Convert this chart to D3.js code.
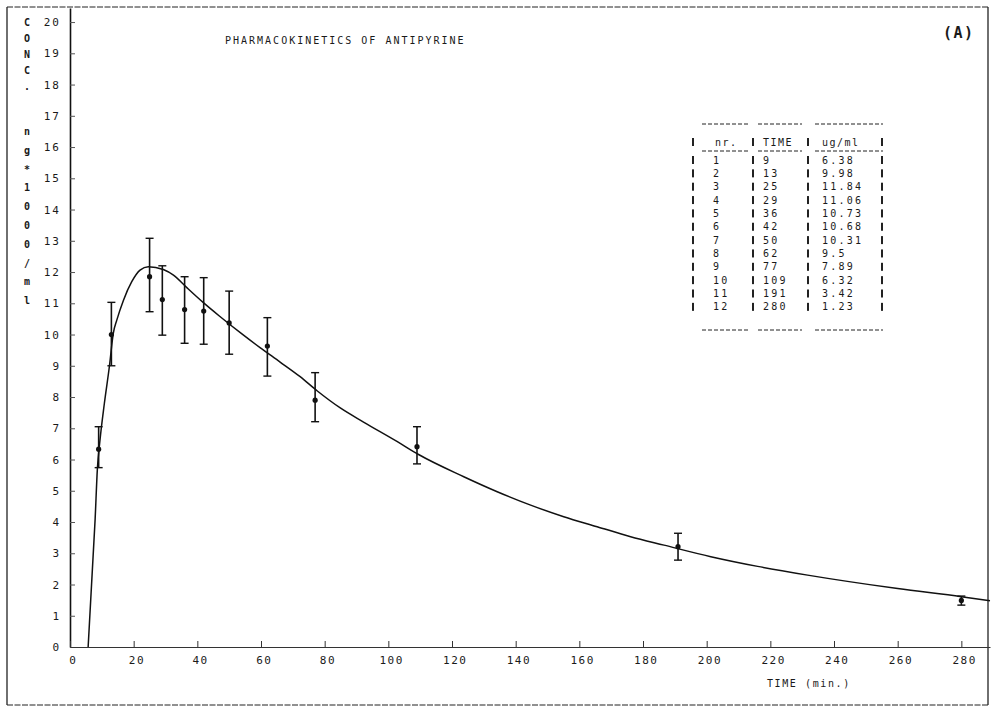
<!DOCTYPE html>
<html>
<head>
<meta charset="utf-8">
<script src="https://cdn.jsdelivr.net/npm/d3@7"></script>
<style>
  body { margin: 0; background: #fff; }
  svg { display: block; }
  .mono { font-family: "DejaVu Sans Mono", monospace; fill: #1a1a1a; }
</style>
</head>
<body>
<svg class="chart"></svg>
<script>
/*Measured points: time in minutes, plotted mean and the ends of the error bars*/
const times = [9, 13, 25, 29, 36, 42, 50, 62, 77, 109, 191, 280]
const means = [6.33, 10.0, 11.85, 11.12, 10.8, 10.75, 10.37, 9.63, 7.9, 6.41, 3.21, 1.49]
const lows  = [5.74, 9.0, 10.73, 9.98, 9.72, 9.69, 9.37, 8.67, 7.21, 5.86, 2.78, 1.34]
const highs = [7.05, 11.03, 13.08, 12.2, 11.85, 11.82, 11.39, 10.54, 8.78, 7.05, 3.64, 1.63]

/*Fitted curve*/
const curveT = [5.7, 7.9, 8.6, 9.4, 10.8, 12.4, 13.6, 14.7, 16.8, 19.4, 22, 24.6, 29.3, 32.5, 36.7, 41.9, 47.2, 54, 59.7, 66, 72.3, 77.6, 84.9, 92.2, 102.7, 109.5, 123.7, 134.2, 144.7, 155.1, 165.6, 176.1, 186.6, 201.3, 216, 231.7, 260, 280, 289]
const curveC = [0, 4.1, 5.7, 6.6, 7.8, 9.0, 10.04, 10.46, 11.1, 11.69, 12.06, 12.17, 12.08, 11.9, 11.5, 11.02, 10.57, 10.02, 9.58, 9.12, 8.65, 8.2, 7.65, 7.2, 6.58, 6.16, 5.45, 4.97, 4.54, 4.17, 3.85, 3.53, 3.26, 2.89, 2.58, 2.3, 1.87, 1.61, 1.48]

/*Table in the upper right*/
const tableHead = ["nr.", "TIME", "ug/ml"]
const tableNr = ["1", "2", "3", "4", "5", "6", "7", "8", "9", "10", "11", "12"]
const tableTime = ["9", "13", "25", "29", "36", "42", "50", "62", "77", "109", "191", "280"]
const tableConc = ["6.38", "9.98", "11.84", "11.06", "10.73", "10.68", "10.31", "9.5", "7.89", "6.32", "3.42", "1.23"]

/*Axis ticks*/
const xTicks = d3.range(0, 281, 20)
const yTicks = d3.range(0, 21, 1)
const yLabel = "CONC.  ng*1000/ml"

const width = 993,
      height = 710

var chart = d3.select(".chart")
    .attr("width", width)
    .attr("height", height)

var x = d3.scaleLinear().domain([0, 289]).range([70, 990])
var y = d3.scaleLinear().domain([0, 20.45]).range([647, 8])

/*Outer frame*/
var frame = chart.append("g").attr("stroke", "#222").attr("fill", "none")
frame.append("line").attr("x1", 7).attr("x2", 988).attr("y1", 7).attr("y2", 7)
    .attr("stroke-dasharray", "6,1.5")
frame.append("line").attr("x1", 7).attr("x2", 988).attr("y1", 705).attr("y2", 705)
    .attr("stroke-dasharray", "6,1.5")
frame.append("line").attr("x1", 7).attr("x2", 7).attr("y1", 7).attr("y2", 705)
    .attr("stroke-width", 1.3)
frame.append("line").attr("x1", 988).attr("x2", 988).attr("y1", 7).attr("y2", 705)
    .attr("stroke-width", 1.3)

/*Y axis, ticks pointing inward*/
var yAxis = chart.append("g")
    .attr("transform", "translate(" + x(0) + ",0)")
    .call(d3.axisLeft(y).tickValues(yTicks).tickSizeInner(-5).tickSizeOuter(0).tickPadding(9))
yAxis.select(".domain").attr("stroke", "#111").attr("stroke-width", 1.6)
yAxis.selectAll(".tick line").attr("stroke", "#555")
yAxis.selectAll("text")
    .attr("class", "mono")
    .style("font-size", "11px")
    .style("letter-spacing", "2px")

/*X axis along the bottom*/
var xAxis = chart.append("g")
    .attr("transform", "translate(0," + y(0) + ")")
    .call(d3.axisBottom(x).tickValues(xTicks).tickSizeInner(-6).tickSizeOuter(0).tickPadding(9))
xAxis.select(".domain").attr("stroke", "#333").attr("stroke-width", 1)
xAxis.selectAll(".tick line").attr("stroke", "#333")
xAxis.selectAll("text")
    .attr("class", "mono")
    .attr("dx", "0.25em")
    .style("font-size", "11px")
    .style("letter-spacing", "1.5px")

/*Vertical axis title, one letter per line*/
var letters = yLabel.split("")
chart.append("g")
    .selectAll("text")
    .data(letters)
    .enter()
    .append("text")
      .attr("class", "mono")
      .attr("x", 27)
      .attr("y", (d, i) => { return i < 5 ? 26 + i * 16 : 135 + (i - 7) * 18.8 })
      .attr("text-anchor", "middle")
      .style("font-size", "10px")
      .style("font-weight", "bold")
      .text((d) => { return d })

/*Titles*/
chart.append("text")
    .attr("class", "mono")
    .attr("x", 225).attr("y", 44)
    .style("font-size", "10px")
    .style("letter-spacing", "2px")
    .text("PHARMACOKINETICS OF ANTIPYRINE")

chart.append("text")
    .attr("class", "mono")
    .attr("x", 943).attr("y", 38)
    .style("font-size", "15px")
    .style("font-weight", "bold")
    .style("letter-spacing", "1.5px")
    .text("(A)")

chart.append("text")
    .attr("class", "mono")
    .attr("x", 767).attr("y", 687)
    .style("font-size", "10px")
    .style("letter-spacing", "1.6px")
    .text("TIME (min.)")

/*Fitted curve*/
var line = d3.line()
    .x((d) => { return x(d[0]) })
    .y((d) => { return y(d[1]) })
    .curve(d3.curveMonotoneX)

chart.append("path")
    .datum(d3.zip(curveT, curveC))
    .attr("fill", "none")
    .attr("stroke", "#111")
    .attr("stroke-width", 1.5)
    .attr("d", line)

/*Error bars and points*/
var bars = chart.append("g")
    .attr("stroke", "#111")
    .selectAll("g")
    .data(times.map((t, i) => { return { t: t, m: means[i], lo: lows[i], hi: highs[i] } }))
    .enter()
    .append("g")

bars.append("line")
    .attr("x1", (d) => { return x(d.t) }).attr("x2", (d) => { return x(d.t) })
    .attr("y1", (d) => { return y(d.lo) }).attr("y2", (d) => { return y(d.hi) })
    .attr("stroke-width", 1.6)
bars.selectAll(".cap")
    .data((d) => { return [d.lo, d.hi].map((v) => { return { t: d.t, v: v } }) })
    .enter()
    .append("line")
      .attr("class", "cap")
      .attr("x1", (d) => { return x(d.t) - 4 }).attr("x2", (d) => { return x(d.t) + 4 })
      .attr("y1", (d) => { return y(d.v) }).attr("y2", (d) => { return y(d.v) })
      .attr("stroke-width", 1.4)
bars.append("circle")
    .attr("cx", (d) => { return x(d.t) })
    .attr("cy", (d) => { return y(d.m) })
    .attr("r", 2.6)
    .attr("fill", "#111")
    .attr("stroke", "none")

/*Data table*/
var table = chart.append("g")
var colX = [713, 763, 822],
    barX = [693, 753, 808, 882],
    dashSegs = [[702, 748], [758, 802], [815, 883]]

function dashes (yy) {
  table.append("g")
      .selectAll("line")
      .data(dashSegs)
      .enter()
      .append("line")
        .attr("x1", (d) => { return d[0] }).attr("x2", (d) => { return d[1] })
        .attr("y1", yy).attr("y2", yy)
        .attr("stroke", "#222")
        .attr("stroke-dasharray", "4,2")
}
dashes(124)
dashes(151)
dashes(330)

var rowY = (i) => { return 160 + i * 13.35 }
var rows = [tableHead].concat(tableNr.map((n, i) => { return [n, tableTime[i], tableConc[i]] }))

rows.forEach((r, i) => {
  var yy = i === 0 ? 142 : rowY(i - 1)
  table.append("g")
      .selectAll("text")
      .data(r)
      .enter()
      .append("text")
        .attr("class", "mono")
        .attr("x", (d, j) => { return colX[j] + (i === 0 && j === 0 ? 2 : 0) })
        .attr("y", yy + 3.5)
        .style("font-size", "10px")
        .style("letter-spacing", i === 0 ? "1.5px" : "2.2px")
        .text((d) => { return d })
  table.append("g")
      .selectAll("rect")
      .data(barX)
      .enter()
      .append("rect")
        .attr("x", (d) => { return d - 1 })
        .attr("y", yy - 4)
        .attr("width", 2)
        .attr("height", 8)
        .attr("fill", "#222")
})
</script>
</body>
</html>
